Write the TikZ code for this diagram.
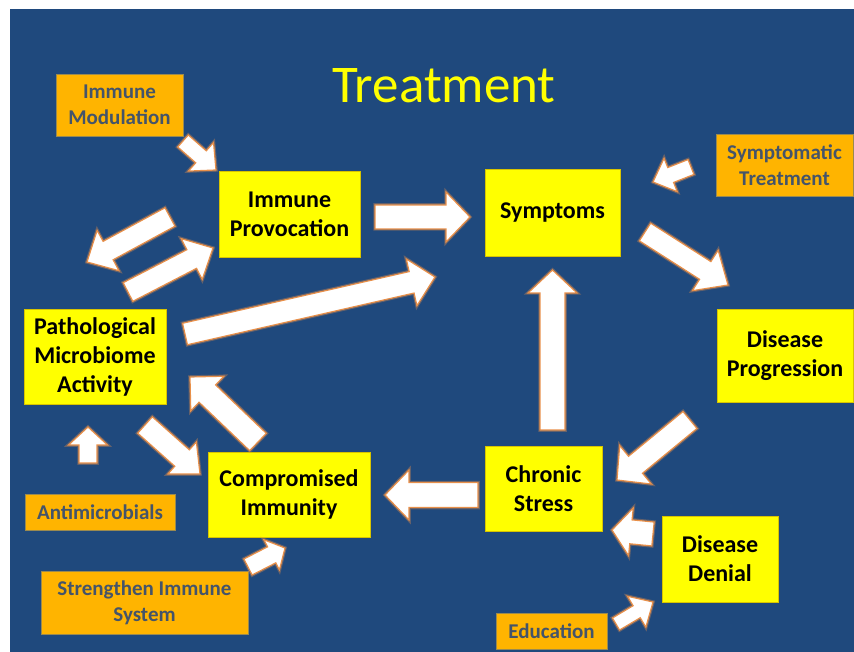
\documentclass[tikz,border=0pt]{standalone}
\usepackage{fontspec}
\setmainfont{Carlito}
\usetikzlibrary{calc}
\definecolor{bg}{HTML}{1F497D}
\definecolor{yel}{HTML}{FFFF00}
\definecolor{yeledge}{HTML}{D8C400}
\definecolor{orn}{HTML}{FFB400}
\definecolor{ornedge}{HTML}{9A8A50}
\definecolor{otext}{HTML}{44546A}
\definecolor{arrowor}{HTML}{E8904A}
\newcommand\blkarrow[5]{%
  \coordinate (bA) at (#1); \coordinate (bB) at (#2);
  \coordinate (bC) at ($(bB)!#5!(bA)$);
  \draw[blockarrow] ($(bA)!#3!90:(bB)$) -- ($(bC)!#3!90:(bB)$) -- ($(bC)!#4!90:(bB)$) -- (bB)
    -- ($(bC)!#4!-90:(bB)$) -- ($(bC)!#3!-90:(bB)$) -- ($(bA)!#3!-90:(bB)$) -- cycle;}
\tikzset{
  ybox/.style={fill=yel, draw=yeledge, line width=0.6pt, font=\bfseries\fontsize{24}{29}\selectfont, align=center, inner sep=0pt},
  obox/.style={fill=orn, draw=ornedge, line width=0.6pt, text=otext, font=\bfseries\fontsize{21}{26}\selectfont, align=center, inner sep=0pt},
  blockarrow/.style={fill=white, draw=arrowor, line width=1.2pt, line join=miter,
    preaction={draw=arrowor, draw opacity=0.35, line width=3.5pt}},
}
\begin{document}
\begin{tikzpicture}[x=1pt,y=-1pt]
\useasboundingbox (0,0) rectangle (854,652);
\fill[white] (0,0) rectangle (854,652);
\fill[bg] (10,9) rectangle (854,652);
\node[text=yel, font=\fontsize{53}{60}\selectfont, anchor=base] (title) at (444,103) {Treatment};
% boxes
\node[obox, minimum width=127pt, minimum height=62pt] (imod) at (119.5,105) {Immune\\Modulation};
\node[ybox, minimum width=141pt, minimum height=86pt] (ip) at (289.5,214) {Immune\\Provocation};
\node[ybox, minimum width=135pt, minimum height=87pt] (sym) at (552.5,212.5) {Symptoms};
\node[obox, minimum width=137pt, minimum height=62pt] (symt) at (784.5,165) {Symptomatic\\Treatment};
\node[ybox, minimum width=136pt, minimum height=93pt] (dp) at (785,355.5) {Disease\\Progression};
\node[ybox, minimum width=142pt, minimum height=95pt] (pma) at (95,356.5) {Pathological\\Microbiome\\Activity};
\node[ybox, minimum width=162pt, minimum height=85pt] (ci) at (289,494.5) {Compromised\\Immunity};
\node[ybox, minimum width=117pt, minimum height=85pt] (cs) at (543.5,488.5) {Chronic\\Stress};
\node[ybox, minimum width=116pt, minimum height=86pt] (dd) at (720,559) {Disease\\Denial};
\node[obox, minimum width=111pt, minimum height=36pt] (edu) at (551.5,631) {Education};
\node[obox, minimum width=150pt, minimum height=36pt] (anti) at (100,512) {Antimicrobials};
\node[obox, minimum width=207pt, minimum height=63pt] (sis) at (144.5,602.5) {Strengthen Immune\\System};
% arrow endpoints
\coordinate (a1s) at (183,141);   \coordinate (a1e) at (216,170);
\coordinate (a2s) at (375,217);   \coordinate (a2e) at (470,217);
\coordinate (a3s) at (185,334);   \coordinate (a3e) at (435,277);
\coordinate (a4s) at (170,217);   \coordinate (a4e) at (87,262);
\coordinate (a5s) at (128,292);   \coordinate (a5e) at (213,248);
\coordinate (a6s) at (645,232);   \coordinate (a6e) at (728,285);
\coordinate (a7s) at (691,167);   \coordinate (a7e) at (653,182);
\coordinate (a8s) at (690,420);   \coordinate (a8e) at (617,480);
\coordinate (a9s) at (552.5,430); \coordinate (a9e) at (552.5,270);
\coordinate (a10s) at (478,495);  \coordinate (a10e) at (385,495);
\coordinate (a11s) at (653,534);  \coordinate (a11e) at (612,530);
\coordinate (a12s) at (616,624);  \coordinate (a12e) at (653,602);
\coordinate (a13s) at (248,567);  \coordinate (a13e) at (285,548);
\coordinate (a14s) at (88,463);   \coordinate (a14e) at (88,427);
\coordinate (a15s) at (145,425);  \coordinate (a15e) at (200,474);
\coordinate (a16s) at (258,442);  \coordinate (a16e) at (190,377);
% arrows
\blkarrow{a1s}{a1e}{8pt}{19pt}{20pt}
\blkarrow{a2s}{a2e}{12pt}{25pt}{24pt}
\blkarrow{a3s}{a3e}{11pt}{24pt}{24pt}
\blkarrow{a4s}{a4e}{10.5pt}{23pt}{24pt}
\blkarrow{a5s}{a5e}{10.5pt}{23pt}{24pt}
\blkarrow{a6s}{a6e}{10.5pt}{24pt}{27pt}
\blkarrow{a7s}{a7e}{8pt}{18pt}{19pt}
\blkarrow{a8s}{a8e}{11pt}{25pt}{24pt}
\blkarrow{a9s}{a9e}{12.5pt}{24.5pt}{23pt}
\blkarrow{a10s}{a10e}{12.5pt}{25pt}{24pt}
\blkarrow{a11s}{a11e}{12pt}{24pt}{19pt}
\blkarrow{a12s}{a12e}{7pt}{18pt}{19pt}
\blkarrow{a13s}{a13e}{9pt}{17pt}{15pt}
\blkarrow{a14s}{a14e}{9pt}{19.5pt}{18pt}
\blkarrow{a15s}{a15e}{11pt}{21.5pt}{24pt}
\blkarrow{a16s}{a16e}{12pt}{24pt}{24pt}
\end{tikzpicture}
\end{document}
